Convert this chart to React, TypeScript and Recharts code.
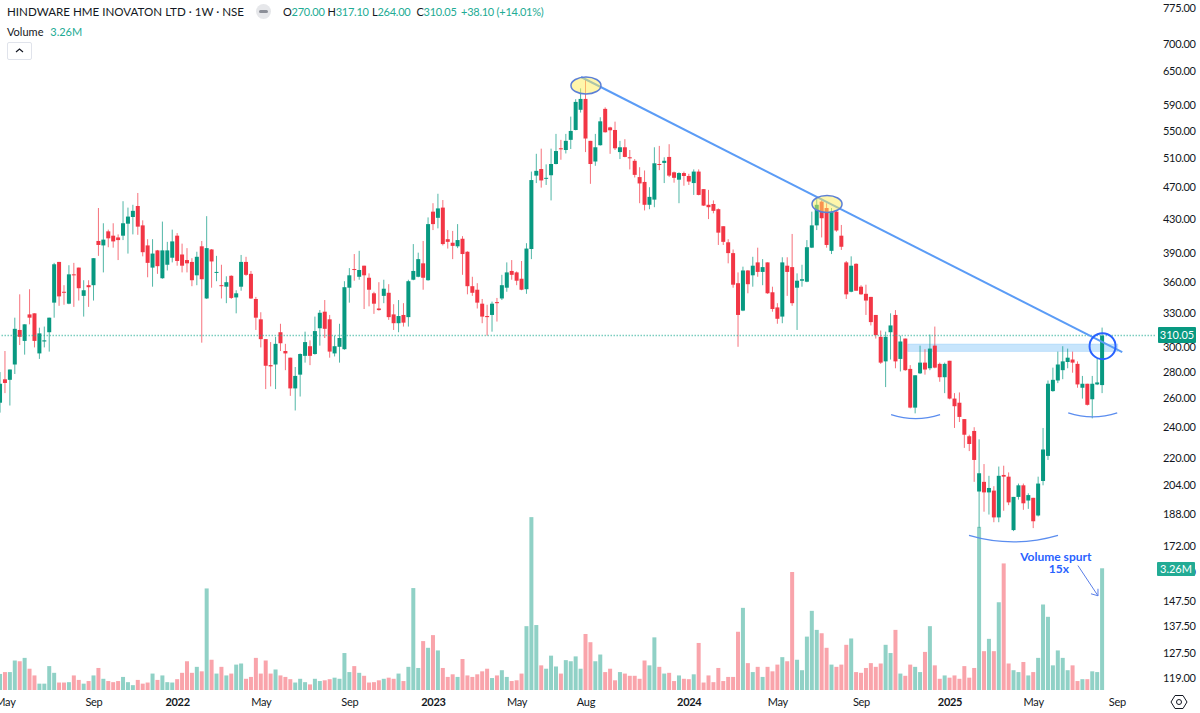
import React from "react";
import {
  ComposedChart,
  Bar,
  XAxis,
  YAxis,
  ReferenceLine,
  ReferenceDot,
  ReferenceArea,
} from "recharts";

const opens = [
  257, 274.4, 274, 286, 315, 305.5, 329, 330, 295, 305,
  313, 340, 381, 350.5, 339, 368, 375, 346.5, 357, 357,
  404, 399, 415, 410, 408, 410, 424, 432, 445.5, 422,
  399, 375, 393.5, 364, 378, 385.5, 410, 389, 383, 381,
  367, 398, 344, 394.5, 369.5, 357, 355.5, 366.5, 345, 355.5,
  381, 368.5, 343.5, 324.5, 307, 285.5, 286, 313, 297, 291.5,
  267.5, 278, 293, 301, 294.5, 316.5, 331.5, 324.5, 295, 300.5,
  298.5, 354.5, 373.5, 365.5, 377, 364.5, 349, 334.5, 346.5, 349.5,
  329, 321, 328.5, 326.5, 362.5, 365.5, 379.5, 362, 438.5, 431,
  443.5, 406, 402, 398, 406.5, 392, 356, 352.5, 339, 327.5,
  328.5, 340.5, 344, 354.5, 371.5, 370, 363.5, 353, 395, 485,
  494, 481, 485.5, 501, 523.5, 521, 536, 551, 583, 601,
  534.5, 504.5, 528, 584.5, 555, 551, 518, 525, 510.5, 505.5,
  483, 476.5, 447, 453.5, 501, 502.5, 511, 489.5, 479.5, 488.5,
  484.5, 475, 490.5, 467, 447, 448, 441.5, 421, 402.5, 390.5,
  359, 332.5, 372, 367, 380.5, 370.5, 380.5, 350, 335.5, 327,
  377, 375.5, 354.5, 361.5, 360.5, 396.5, 422, 451, 443, 393,
  438.5, 410, 380.5, 350.5, 379, 355.5, 348.5, 345.5, 328.5, 309,
  288.5, 313, 328.5, 290.5, 307.5, 282.5, 253.5, 279, 287.5, 283,
  301.5, 286.5, 276, 289, 260, 257, 245.5, 234, 237.5, 200.5,
  206, 200, 201, 186.5, 210, 209, 180, 197.5, 204, 195.5,
  197, 187.5, 206.5, 221.5, 265.5, 273.5, 281.5, 288, 290, 286.5,
  268, 271, 259.5, 270.5, 270,
];

const closes = [
  271, 271.6, 282, 316, 309, 320, 326, 305.5, 312, 306,
  326, 378.5, 346, 349.5, 368, 367, 354, 352, 355, 385,
  399.5, 405.5, 407, 403.5, 405, 424.5, 432.5, 439.5, 420.5, 391.5,
  380, 390, 376.5, 393.5, 393.5, 403.5, 382, 377, 379.5, 362,
  386.5, 363, 396, 381.5, 370.5, 356.5, 360, 344.5, 349, 381,
  367.5, 344, 326, 307, 285, 284.5, 303, 303.5, 295, 267.5,
  277, 294.5, 304.5, 293, 314, 330.5, 316, 296.5, 301, 308,
  355, 367, 372.5, 372.5, 367, 352.5, 339, 333, 353.5, 326.5,
  321, 327.5, 321.5, 361, 371.5, 384, 364.5, 423.5, 423.5, 442.5,
  400.5, 403, 398.5, 405, 389.5, 356, 349.5, 340, 327, 326.5,
  339, 339.5, 357, 370, 367.5, 361.5, 352.5, 395.5, 479, 491.5,
  478.5, 482, 501, 519.5, 522, 534.5, 549.5, 596, 601, 538,
  501, 525, 564.5, 547.5, 550.5, 523.5, 525, 511, 509, 486,
  474.5, 447, 457, 502, 500, 505.5, 485, 482, 488.5, 484.5,
  477, 490.5, 459.5, 446, 444, 439.5, 413.5, 403, 390.5, 357.5,
  328.5, 372, 358, 377, 370.5, 375.5, 349, 334, 325, 380.5,
  370.5, 339.5, 361.5, 363, 397, 422, 447, 430.5, 399.5, 438,
  416, 397.5, 348, 377, 351.5, 348, 342, 322, 310.5, 287.5,
  309, 319, 288.5, 305, 281.5, 253.5, 277.5, 287.5, 282, 299,
  283.5, 276, 286.5, 260, 254.5, 247, 235, 229, 219, 211,
  200, 202.5, 186.5, 209.5, 209, 194.5, 197.5, 204, 194, 198.5,
  184.5, 205, 225.5, 271, 274, 286, 288.5, 291.5, 287.5, 270.5,
  271, 255.5, 271, 272, 310.05,
];

const highs = [
  280, 297, 282, 326, 348, 320, 353, 330, 317, 318,
  326, 380, 381, 357, 377.5, 380, 375, 362, 362, 385,
  443, 424.5, 417, 424.5, 411.5, 451.5, 443.5, 447, 462, 428,
  406, 406, 394, 426.5, 403, 417, 413, 401, 396, 385,
  392, 404, 433, 395, 387.5, 378, 366, 367, 352, 388.5,
  386.5, 371.5, 345.5, 331, 307, 304.5, 309, 320.5, 303, 291.5,
  284, 295, 313.5, 306, 327, 333, 342.5, 328.5, 310, 320.5,
  361, 374.5, 389.5, 393, 377, 369, 350.5, 360, 362.5, 358,
  338.5, 342.5, 339.5, 362.5, 400.5, 391, 404, 431.5, 449, 461,
  453, 416.5, 415.5, 423.5, 409.5, 392.5, 365.5, 359, 343.5, 338,
  341, 344.5, 367.5, 380.5, 383, 371, 382, 401.5, 490.5, 515.5,
  523, 500.5, 523, 545, 536, 545, 572, 600.5, 619, 634,
  534.5, 545, 571, 587, 556, 564, 534.5, 537, 521, 508,
  496.5, 492, 469.5, 525, 527, 510.5, 529.5, 490.5, 489.5, 490.5,
  487.5, 493.5, 493.5, 467, 466, 452.5, 442.5, 421, 406, 394.5,
  370, 376, 372.5, 386.5, 396.5, 384, 380.5, 355.5, 339.5, 386,
  386, 412, 369, 378, 405, 438.5, 455, 455, 449, 443,
  440.5, 422.5, 382, 387, 379.5, 357, 357.5, 345.5, 328.5, 314.5,
  313.5, 330, 333, 310, 307.5, 285.5, 277.5, 301.5, 298.5, 311,
  318, 287.5, 287.5, 289, 264, 264.5, 245.5, 235, 240, 232,
  216.5, 209.5, 203.5, 215, 215.5, 211.5, 197.5, 205, 205, 199.5,
  197, 209, 239.5, 273.5, 283.5, 296.5, 301, 299, 296.5, 288.5,
  277, 271, 277, 291, 317.1,
];

const lows = [
  250, 264, 255, 278.5, 302, 294, 320, 300, 290.5, 300,
  296.5, 326, 337, 338, 338.5, 336, 342, 327, 336, 342,
  387.5, 370, 397, 396.5, 383, 405, 390, 411.5, 411, 387,
  365, 355.5, 368.5, 363.5, 372, 380.5, 377, 370, 370, 356,
  357, 304, 343.5, 354.5, 361, 344, 339.5, 343.5, 330, 351.5,
  366.5, 343.5, 315, 300, 267, 269, 267, 297, 281.5, 262,
  251.5, 261.5, 287.5, 285.5, 294, 301.5, 308, 291.5, 292.5, 287.5,
  298, 340, 361.5, 362.5, 334, 336.5, 329.5, 332.5, 339.5, 324,
  315, 313, 318, 318, 362, 365, 352.5, 361.5, 416.5, 418.5,
  399, 395.5, 384, 396, 367.5, 348, 346.5, 334.5, 321, 310,
  313.5, 322.5, 342.5, 350.5, 362.5, 357, 352, 348.5, 384, 475,
  469, 472.5, 452.5, 500.5, 507, 516, 522.5, 550.5, 578.5, 518,
  474, 498.5, 527.5, 547, 515.5, 521, 508, 510.5, 493.5, 482.5,
  449, 440, 441.5, 444, 492.5, 475, 483, 475.5, 449, 471.5,
  472.5, 459.5, 459, 445.5, 429.5, 436.5, 399.5, 399.5, 379.5, 354.5,
  300.5, 332, 349, 355.5, 365.5, 357, 348.5, 331.5, 320.5, 321,
  346.5, 337, 315, 355.5, 360, 396, 416.5, 408, 396.5, 389.5,
  414.5, 394, 343.5, 350, 351.5, 347.5, 328.5, 319, 307.5, 286.5,
  268.5, 290, 283, 280.5, 281, 253, 249.5, 278.5, 278, 281.5,
  283, 272.5, 264, 259.5, 239.5, 243.5, 226.5, 224.5, 206, 181,
  189.5, 188, 184, 184, 190, 193, 179.5, 196, 190.5, 191,
  181, 187, 204, 219, 265, 271.5, 274.5, 283, 279.5, 268,
  260, 255, 246, 270, 264,
];

// millions of shares
const volumes = [
  0.43, 0.48, 0.48, 0.79, 0.77, 0.86, 0.57, 0.39, 0.17, 0.17,
  0.64, 0.46, 0.2, 0.2, 0.21, 0.39, 0.27, 0.17, 0.24, 0.39,
  0.59, 0.3, 0.24, 0.21, 0.24, 0.35, 0.21, 0.13, 0.27, 0.17,
  0.2, 0.44, 0.27, 0.39, 0.21, 0.2, 0.29, 0.46, 0.77, 0.46,
  0.62, 0.5, 2.72, 0.81, 0.44, 0.62, 0.39, 0.44, 0.68, 0.71,
  0.3, 0.35, 0.86, 0.44, 0.79, 0.44, 0.55, 0.39, 0.35, 0.29,
  0.2, 0.3, 0.21, 0.15, 0.3, 0.24, 0.26, 0.29, 0.33, 0.3,
  0.99, 0.48, 0.64, 0.46, 0.38, 0.2, 0.21, 0.26, 0.3, 0.33,
  0.3, 0.44, 0.24, 0.62, 2.73, 0.59, 1.31, 1.13, 1.47, 1.06,
  0.59, 0.35, 0.42, 0.35, 0.83, 0.39, 0.35, 0.42, 0.5, 0.57,
  0.32, 0.39, 0.53, 0.35, 0.24, 0.26, 0.44, 1.71, 4.63, 1.74,
  0.66, 0.57, 0.92, 0.63, 0.44, 0.8, 0.77, 0.9, 0.57, 1.5,
  1.28, 0.77, 0.95, 0.48, 0.57, 0.26, 0.48, 0.44, 0.38, 0.38,
  0.3, 0.79, 0.66, 1.41, 0.62, 0.44, 0.46, 0.24, 0.39, 0.3,
  0.29, 0.42, 1.26, 0.2, 0.39, 0.21, 0.59, 0.24, 0.35, 0.35,
  1.56, 2.2, 0.72, 0.48, 0.62, 0.35, 0.62, 0.5, 0.68, 0.88,
  0.77, 3.16, 0.81, 0.53, 1.43, 2.12, 1.61, 1.52, 1.13, 0.68,
  0.62, 0.68, 1.21, 1.38, 0.48, 0.46, 0.59, 0.72, 0.62, 0.71,
  1.21, 0.99, 1.61, 0.44, 0.38, 0.68, 0.62, 0.48, 1.02, 1.71,
  0.66, 0.3, 0.39, 0.33, 0.39, 0.3, 0.64, 0.33, 0.59, 4.37,
  1.04, 1.37, 1.04, 2.35, 3.39, 0.71, 0.53, 0.48, 0.75, 0.39,
  0.48, 0.86, 2.29, 1.96, 0.66, 1.06, 0.86, 0.53, 0.66, 0.24,
  0.29, 0.29, 0.5, 0.48, 3.26,
];

const priceTicks = [
  775, 700, 650, 590, 550, 510, 470, 430, 390, 360, 330, 300, 280, 260, 240,
  220, 204, 188, 172, 160, 147.5, 137.5, 127.5, 119,
];
const timeTickWeeks = [1, 19, 36, 53, 71, 88, 105, 119, 140, 158, 175, 193, 210, 227];
const timeTickLabels = [
  "May", "Sep", "2022", "May", "Sep", "2023", "May", "Aug", "2024", "May", "Sep", "2025", "May", "Sep",
];
const ohlcLabels = ["O", "H", "L", "C"];
const ohlcValues = ["270.00", "317.10", "264.00", "310.05"];

const rows = opens.map((open, i) => ({
  week: i,
  open,
  close: closes[i],
  high: highs[i],
  low: lows[i],
  range: [lows[i], highs[i]],
  volume: volumes[i],
}));

const UP = "#089981";
const DOWN = "#f23645";
const FONT = "Lato, 'Noto Sans', sans-serif";
const X_DOMAIN = [-0.1, 234.66];

function Candle(props: any) {
  const { x, y, width, height, payload } = props;
  const { open, close, high, low } = payload;
  const color = close >= open ? UP : DOWN;
  const mid = x + width / 2;
  // the bar spans low..high, body ends are placed on the same log scale
  const yOf = (p: number) => y + (Math.log(high / p) / Math.log(high / low)) * height;
  const top = yOf(Math.max(open, close));
  const bottom = yOf(Math.min(open, close));
  return (
    <g>
      <rect x={mid - 0.5} y={y} width={1} height={height} fill={color} fillOpacity={0.7} />
      <rect x={mid - 2} y={top} width={4} height={Math.max(bottom - top, 1)} fill={color} />
    </g>
  );
}

function VolumeBar(props: any) {
  const { x, y, width, height, payload } = props;
  const color = payload.close >= payload.open ? UP : DOWN;
  return <rect x={x} y={y} width={width} height={height} fill={color} fillOpacity={0.45} />;
}

function TimeTick(props: any) {
  const { x, y, payload } = props;
  const label = timeTickLabels[timeTickWeeks.indexOf(payload.value)];
  const isYear = label.startsWith("20");
  return (
    <text
      x={x}
      y={y + 14}
      textAnchor="middle"
      fontFamily={FONT}
      fontSize={11}
      letterSpacing={-0.3}
      fontWeight={isYear ? 700 : 400}
      fill="#131722"
    >
      {label}
    </text>
  );
}

const marker = (p: any, rx: number, ry: number) => (
  <ellipse cx={p.cx} cy={p.cy} rx={rx} ry={ry} fill="rgba(255,238,88,0.5)" stroke="#5b7fd6" strokeWidth={1.5} />
);

const arc = (p: any, half: number, rise: number) => (
  <path
    d={`M${p.cx - half} ${p.cy - rise} Q${p.cx} ${p.cy + rise} ${p.cx + half} ${p.cy - rise}`}
    fill="none"
    stroke="#5b8def"
    strokeWidth={1.3}
  />
);

const legendValue = { color: "#22ab94" };

export default function App() {
  return (
    <div style={{ position: "absolute", left: 0, top: 0, width: 1200, height: 713, overflow: "hidden", background: "#fff", fontFamily: FONT }}>
      <ComposedChart width={1200} height={713} data={rows} margin={{ top: 0, right: 0, bottom: 0, left: 0 }}>
        <XAxis
          xAxisId="price"
          dataKey="week"
          type="number"
          domain={X_DOMAIN}
          allowDataOverflow
          ticks={timeTickWeeks}
          interval={0}
          height={23}
          axisLine={false}
          tickLine={false}
          tickSize={0}
          tick={<TimeTick />}
        />
        <XAxis xAxisId="vol" dataKey="week" type="number" domain={X_DOMAIN} allowDataOverflow hide />
        <YAxis
          yAxisId="price"
          orientation="right"
          scale="log"
          domain={[115.1, 792.5]}
          allowDataOverflow
          ticks={priceTicks}
          interval={0}
          width={45}
          axisLine={false}
          tickLine={false}
          tickSize={0}
          tickMargin={8}
          tickFormatter={(v: number) => v.toFixed(2)}
          tick={{ fontSize: 11, fill: "#131722", fontFamily: FONT, letterSpacing: -0.3 }}
        />
        <YAxis yAxisId="vol" domain={[0, 18.48]} allowDataOverflow hide />

        <Bar xAxisId="vol" yAxisId="vol" dataKey="volume" barSize={4} shape={VolumeBar} isAnimationActive={false} />
        <Bar xAxisId="price" yAxisId="price" dataKey="range" barSize={4} shape={Candle} isAnimationActive={false} />

        <ReferenceLine xAxisId="price" yAxisId="price" y={310.05} stroke="#22ab94" strokeOpacity={0.6} strokeWidth={1.5} strokeDasharray="1.5 1.5" />
        <ReferenceArea
          xAxisId="price"
          yAxisId="price"
          x1={184.4}
          x2={227.1}
          y1={296.6}
          y2={302.9}
          fill="#2196f3"
          fillOpacity={0.25}
          stroke="#2196f3"
          strokeOpacity={0.15}
        />
        <ReferenceLine
          xAxisId="price"
          yAxisId="price"
          segment={[{ x: 118, y: 639 }, { x: 228, y: 296 }]}
          stroke="#5b9cf6"
          strokeWidth={2}
        />
        <ReferenceDot xAxisId="price" yAxisId="price" x={119} y={624} shape={(p: any) => marker(p, 15, 8.5)} />
        <ReferenceDot xAxisId="price" yAxisId="price" x={168} y={448} shape={(p: any) => marker(p, 15, 8.5)} />
        <ReferenceDot
          xAxisId="price"
          yAxisId="price"
          x={224}
          y={301}
          shape={(p: any) => <circle cx={p.cx} cy={p.cy} r={13} fill="none" stroke="#2962ff" strokeWidth={2} />}
        />
        <ReferenceDot xAxisId="price" yAxisId="price" x={186} y={245.8} shape={(p: any) => arc(p, 24.5, 4)} />
        <ReferenceDot xAxisId="price" yAxisId="price" x={205.9} y={174.2} shape={(p: any) => arc(p, 44.5, 6.5)} />
        <ReferenceDot xAxisId="price" yAxisId="price" x={222} y={247.1} shape={(p: any) => arc(p, 24.5, 4)} />
        <ReferenceLine
          xAxisId="price"
          yAxisId="price"
          segment={[{ x: 219, y: 163 }, { x: 223.07, y: 149.8 }]}
          stroke="#5b7fe8"
          strokeWidth={1}
        />
        <ReferenceDot
          xAxisId="price"
          yAxisId="price"
          x={223.07}
          y={149.8}
          shape={(p: any) => (
            <path d={`M${p.cx - 7} ${p.cy - 2} L${p.cx} ${p.cy} L${p.cx} ${p.cy - 7}`} fill="none" stroke="#5b7fe8" strokeWidth={1} />
          )}
        />
        <ReferenceDot
          xAxisId="price"
          yAxisId="price"
          x={214.5}
          y={165}
          shape={(p: any) => (
            <text x={p.cx} y={p.cy} textAnchor="middle" fontFamily={FONT} fontSize={12} fontWeight={700} fill="#2962ff">
              <tspan x={p.cx} dy={0}>Volume spurt</tspan>
              <tspan x={p.cx + 3} dy={12}>15x</tspan>
            </text>
          )}
        />
      </ComposedChart>

      <div style={{ position: "absolute", left: 7, top: 4, fontSize: 11.6, lineHeight: "15px", color: "#131722", whiteSpace: "nowrap" }}>
        HINDWARE HME INOVATON LTD · 1W · NSE
      </div>
      <div style={{ position: "absolute", left: 256, top: 4, width: 15, height: 15, borderRadius: 8, background: "#e6e7ea" }}>
        <div style={{ position: "absolute", left: 3, top: 6, width: 9, height: 3, borderRadius: 2, background: "#8c8f98" }} />
      </div>
      <div style={{ position: "absolute", left: 283, top: 4, fontSize: 11, letterSpacing: -0.25, lineHeight: "15px", color: "#131722", whiteSpace: "nowrap", display: "flex" }}>
        {ohlcLabels.map((label, i) => (
          <span key={label} style={{ width: 44.5 }}>
            {label}
            <span style={legendValue}>{ohlcValues[i]}</span>
          </span>
        ))}
        <span style={legendValue}>+38.10 (+14.01%)</span>
      </div>
      <div style={{ position: "absolute", left: 7, top: 24, fontSize: 11, lineHeight: "15px", color: "#131722", whiteSpace: "nowrap" }}>
        Volume <span style={{ ...legendValue, marginLeft: 4 }}>3.26M</span>
      </div>
      <div style={{ position: "absolute", left: 7, top: 42, width: 23, height: 16, border: "1px solid #e0e3eb", borderRadius: 2 }}>
        <svg width={23} height={16}>
          <path d="M8 9 L11.5 6 L15 9" fill="none" stroke="#131722" strokeWidth={1.2} />
        </svg>
      </div>
      <div style={{ position: "absolute", left: 1158, top: 327, width: 38, height: 16, background: UP, color: "#fff", fontSize: 11, lineHeight: "16px", textAlign: "center", borderRadius: 1 }}>
        310.05
      </div>
      <div style={{ position: "absolute", left: 1157, top: 562, width: 38, height: 14, background: "#22ab94", color: "#fff", fontSize: 11, lineHeight: "14px", textAlign: "center", borderRadius: 1 }}>
        3.26M
      </div>
      <svg style={{ position: "absolute", left: 1170, top: 693 }} width={18} height={18}>
        <path d="M5 2.5 H13 L17 9 L13 15.5 H5 L1 9 Z" fill="none" stroke="#131722" strokeWidth={1} />
        <circle cx={9} cy={9} r={2.5} fill="none" stroke="#131722" strokeWidth={1} />
      </svg>
    </div>
  );
}
